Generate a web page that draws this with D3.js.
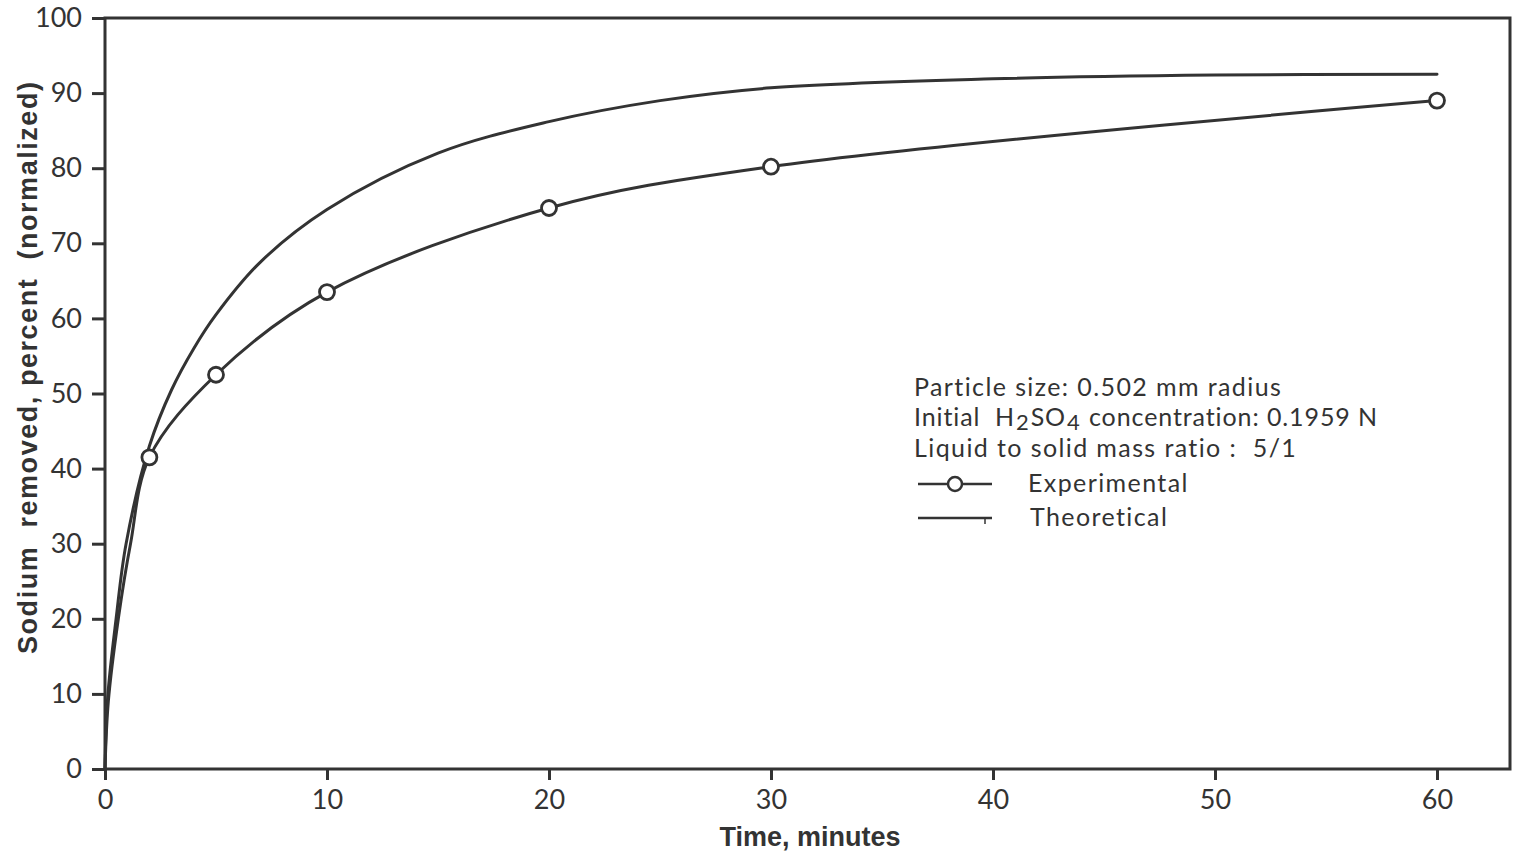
<!DOCTYPE html>
<html>
<head>
<meta charset="utf-8">
<script src="https://cdn.jsdelivr.net/npm/d3@7"></script>
<style>
  html, body { margin: 0; padding: 0; background: #fff; }
  svg { display: block; }
</style>
</head>
<body>
<svg id="chart"></svg>
<script>
const INK = "#333",
  WIDTH = 1519,
  HEIGHT = 854,
  LABEL_FONT = "Lato, 'Open Sans', sans-serif";

// data
const xTicks = [0, 10, 20, 30, 40, 50, 60],
  yTicks = [0, 10, 20, 30, 40, 50, 60, 70, 80, 90, 100];

// measured points (circles)
const expTime = [2, 5, 10, 20, 30, 60],
  expPct = [41.5, 52.5, 63.5, 74.7, 80.2, 89.0];

// the drawn experimental curve, read along its length (starts at the origin)
const expCurveTime = [0, 0.15, 0.6, 1.15, 2, 5, 10, 20, 30, 60],
  expCurvePct = [0, 9, 20, 30, 41.5, 52.5, 63.5, 74.7, 80.2, 89.0];

const theoTime = [0, 0.12, 0.5, 0.95, 2, 3, 4, 5, 7, 10, 15, 20, 25, 30, 40, 50, 60],
  theoPct = [0, 9.5, 20, 30, 43, 50.5, 56, 60.5, 67.5, 74.5, 82, 86.2, 89, 90.7, 91.9, 92.4, 92.5];

const svg = d3.select("#chart")
  .attr("width", WIDTH)
  .attr("height", HEIGHT);

const x = d3.scaleLinear().domain([0, 60]).range([105, 1437]),
  y = d3.scaleLinear().domain([0, 100]).range([769, 18]);

const frameRight = 1510;

// frame: left, top, right, bottom
svg.append("path")
  .attr("d", `M${x(0)},${y(0)} V${y(100)} H${frameRight} V${y(0)} Z`)
  .attr("fill", "none")
  .attr("stroke", INK)
  .attr("stroke-width", 3);

// y axis
const yAxis = d3.axisLeft(y).tickValues(yTicks).tickSize(13).tickPadding(10);
const gy = svg.append("g")
  .attr("transform", `translate(${x(0)},0)`)
  .call(yAxis);
gy.select(".domain").remove();
gy.selectAll("line").attr("stroke", INK).attr("stroke-width", 3);
gy.selectAll("text")
  .attr("fill", INK)
  .attr("font-family", LABEL_FONT)
  .attr("font-size", 27);

// x axis
const xAxis = d3.axisBottom(x).tickValues(xTicks).tickSize(11).tickPadding(10);
const gx = svg.append("g")
  .attr("transform", `translate(0,${y(0)})`)
  .call(xAxis);
gx.select(".domain").remove();
gx.selectAll("line").attr("stroke", INK).attr("stroke-width", 3);
gx.selectAll("text")
  .attr("fill", INK)
  .attr("font-family", LABEL_FONT)
  .attr("font-size", 27);

// axis titles
svg.append("text")
  .attr("x", 810)
  .attr("y", 846)
  .attr("text-anchor", "middle")
  .attr("fill", INK)
  .attr("font-family", "'Liberation Sans', Arial, sans-serif")
  .attr("font-weight", "bold")
  .attr("font-size", 27)
  .text("Time, minutes");

svg.append("text")
  .attr("transform", "translate(37,368) rotate(-90)")
  .attr("text-anchor", "middle")
  .attr("fill", INK)
  .attr("font-family", "'Liberation Sans', Arial, sans-serif")
  .attr("font-weight", "bold")
  .attr("font-size", 27)
  .attr("textLength", 572)
  .attr("lengthAdjust", "spacing")
  .attr("xml:space", "preserve")
  .text("Sodium  removed, percent  (normalized)");

// curves: centripetal Catmull-Rom copes with the near-vertical start
const line = d3.line()
  .x(d => x(d[0]))
  .y(d => y(d[1]))
  .curve(d3.curveCatmullRom.alpha(0.5));

svg.append("path")
  .attr("d", line(d3.zip(theoTime, theoPct)))
  .attr("fill", "none")
  .attr("stroke", INK)
  .attr("stroke-width", 3)
  .attr("stroke-linecap", "round");

svg.append("path")
  .attr("d", line(d3.zip(expCurveTime, expCurvePct)))
  .attr("fill", "none")
  .attr("stroke", INK)
  .attr("stroke-width", 3)
  .attr("stroke-linecap", "round");

svg.append("g")
  .selectAll("circle")
  .data(d3.zip(expTime, expPct))
  .enter()
  .append("circle")
  .attr("cx", d => x(d[0]))
  .attr("cy", d => y(d[1]))
  .attr("r", 7.5)
  .attr("fill", "#fff")
  .attr("stroke", INK)
  .attr("stroke-width", 2.8);

// notes + legend
const legend = svg.append("g")
  .attr("font-family", LABEL_FONT)
  .attr("font-size", 25)
  .attr("letter-spacing", 1.4)
  .attr("fill", INK);

legend.append("text")
  .attr("x", 914).attr("y", 396)
  .attr("xml:space", "preserve")
  .text("Particle size: 0.502 mm radius");

// H2SO4 line: pieces laid side by side so subscripts sit low
const pieces = [
  { t: "Initial  H", dy: 0, size: 25 },
  { t: "2", dy: 4, size: 22 },
  { t: "SO", dy: 0, size: 25 },
  { t: "4", dy: 4, size: 22 },
  { t: " concentration: 0.1959 N", dy: 0, size: 25 }
];
let px = 914;
pieces.forEach(p => {
  const t = legend.append("text")
    .attr("x", px).attr("y", 426 + p.dy)
    .attr("font-size", p.size)
    .attr("letter-spacing", 0.9)
    .attr("xml:space", "preserve")
    .text(p.t);
  px += t.node().getComputedTextLength() + 1;
});

legend.append("text")
  .attr("x", 914).attr("y", 457)
  .attr("xml:space", "preserve")
  .text("Liquid to solid mass ratio :  5/1");

legend.append("line")
  .attr("x1", 918).attr("x2", 992)
  .attr("y1", 484).attr("y2", 484)
  .attr("stroke", INK).attr("stroke-width", 2.5);
legend.append("circle")
  .attr("cx", 955).attr("cy", 484).attr("r", 7)
  .attr("fill", "#fff").attr("stroke", INK).attr("stroke-width", 2.5);
legend.append("text")
  .attr("x", 1028).attr("y", 492)
  .text("Experimental");

legend.append("line")
  .attr("x1", 918).attr("x2", 992)
  .attr("y1", 518).attr("y2", 518)
  .attr("stroke", INK).attr("stroke-width", 2.5);
legend.append("line")
  .attr("x1", 985).attr("x2", 985)
  .attr("y1", 518).attr("y2", 524)
  .attr("stroke", INK).attr("stroke-width", 1.5);
legend.append("text")
  .attr("x", 1030).attr("y", 526)
  .text("Theoretical");
</script>
</body>
</html>
